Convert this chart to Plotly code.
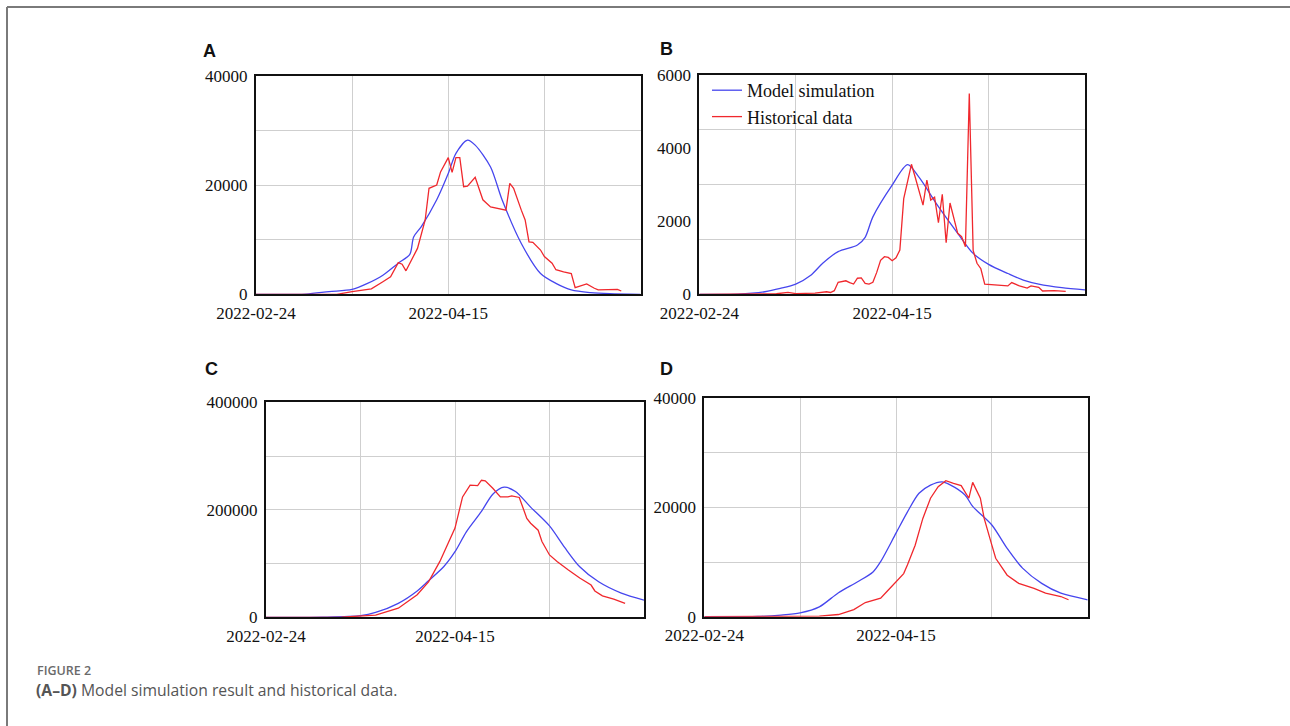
import pandas as pd
import plotly.graph_objects as go

W, H = 1290, 726
START = pd.Timestamp("2022-02-24")

# ---------------- data (day offsets from 2022-02-24) ----------------
a_model_days = [0, 13, 19, 25, 29, 33, 37, 40, 41, 43, 47, 50, 52, 55, 57, 61, 64, 69, 74, 78, 82, 87, 92, 100]
a_model_vals = [0, 50, 500, 900, 2000, 3500, 5700, 7300, 10500, 12400, 17300, 22100, 25800, 28200, 27300,
                23300, 17300, 9300, 3800, 2000, 800, 300, 100, 0]
a_hist_days = [0, 21, 25, 30, 33, 35, 37, 38, 39, 41, 42, 44, 45, 47, 48, 50, 51, 52, 53, 54, 55, 57, 59, 61,
               64, 65, 66, 67, 69, 70, 71, 72, 74, 75, 77, 78, 80, 82, 83, 86, 88, 89, 94, 95]
a_hist_vals = [0, 0, 500, 1000, 2300, 3200, 5800, 5500, 4300, 6900, 8400, 13600, 19400, 20000, 22400, 25000,
               22300, 25000, 25000, 19700, 19800, 21400, 17300, 16000, 15600, 15400, 20300, 19400, 15400,
               13600, 9600, 9500, 8100, 6900, 5700, 4500, 4100, 3800, 1200, 1900, 1100, 800, 900, 600]

b_model_days = [0, 10, 17, 21, 25, 29, 32, 36, 41, 43, 45, 50, 54, 57, 62, 67, 71, 75, 80, 84, 88, 94, 100]
b_model_vals = [0, 5, 70, 160, 280, 530, 850, 1170, 1350, 1560, 2120, 2990, 3550, 3200, 2400, 1670, 1120,
                820, 570, 390, 280, 180, 120]
b_hist_days = [0, 12, 18, 20, 23, 25, 30, 33, 34, 35, 36, 37, 38, 39, 40, 41, 42, 43, 44, 45, 46, 47, 48, 49,
               50, 51, 52, 53, 54, 55, 56, 58, 59, 60, 61, 62, 63, 64, 65, 67, 68, 69, 70, 71, 72, 73, 74,
               78, 80, 81, 83, 85, 86, 88, 89, 92, 95]
b_hist_vals = [0, 10, 20, 15, 50, 20, 30, 70, 50, 100, 330, 350, 370, 320, 280, 440, 450, 300, 280, 330, 600,
               930, 1030, 1010, 920, 1000, 1210, 2620, 3130, 3560, 3200, 2440, 3130, 2580, 2660, 1960, 2740,
               1410, 2500, 1670, 1580, 1300, 5500, 1200, 850, 700, 280, 260, 230, 320, 230, 170, 230, 190,
               90, 100, 80]

c_model_days = [0, 15, 25, 29, 35, 40, 43, 47, 50, 53, 57, 60, 63, 66, 70, 75, 79, 83, 88, 94, 100]
c_model_vals = [0, 300, 3000, 9000, 26000, 49000, 68000, 94000, 122000, 159000, 197000, 229000, 242000,
                234000, 205000, 170000, 130000, 94000, 66000, 45000, 32000]
c_hist_days = [0, 20, 29, 35, 40, 43, 46, 50, 52, 54, 56, 57, 58, 60, 62, 64, 65, 67, 69, 70, 72, 73, 75,
               77, 80, 83, 86, 87, 89, 92, 95]
c_hist_vals = [0, 500, 4000, 17000, 42000, 66000, 104000, 166000, 224000, 246000, 245000, 255000, 254000,
               240000, 224000, 224000, 226000, 223000, 184000, 175000, 162000, 141000, 116000, 104000,
               88000, 73000, 60000, 49000, 40000, 34000, 26000]

d_model_days = [0, 14, 20, 25, 30, 35, 40, 44, 46, 50, 53, 56, 59, 62, 64, 68, 70, 75, 79, 83, 88, 93, 100]
d_model_vals = [0, 50, 300, 700, 1800, 4400, 6400, 8200, 10100, 15300, 19200, 22600, 24100, 24700, 24200,
                22300, 20200, 16800, 12500, 8900, 6100, 4300, 3100]
d_hist_days = [0, 30, 35, 39, 42, 46, 48, 50, 52, 53, 55, 57, 59, 61, 63, 65, 67, 69, 70, 72, 73, 75, 76,
               79, 82, 86, 89, 93, 95]
d_hist_vals = [0, 100, 400, 1300, 2600, 3400, 4900, 6400, 7900, 9500, 13100, 18000, 21700, 23800, 24900,
               24400, 24000, 21700, 24600, 21700, 18000, 13100, 10700, 7600, 6100, 5200, 4300, 3700, 3100]

y_max = [40000, 6000, 400000, 40000]
y_label_vals = [[0, 20000, 40000], [0, 2000, 4000, 6000], [0, 200000, 400000], [0, 20000, 40000]]
panel_letters = ["A", "B", "C", "D"]
x_label_days = [0, 50]
x_label_text = ["2022-02-24", "2022-04-15"]
x_grid_days = [25, 50, 75]
series_names = ["Model simulation", "Historical data"]
caption_head = "FIGURE 2"
caption_bold = "(A\u2013D)"
caption_text = " Model simulation result and historical data."

# ---------------- layout geometry (pixels) ----------------
boxes = [  # x0, x1, ytop, ybottom
    (256, 640.5, 75.7, 294.3),
    (699.3, 1085, 75.2, 294.3),
    (266, 644, 402.3, 617.3),
    (704.3, 1087.7, 398.3, 616.7),
]
label_pos = [(209.5, 51), (666, 49), (211, 369), (666, 369)]

BLUE = "#4646ee"
RED = "#f0282d"
SERIF = "Liberation Serif, Times New Roman, serif"


def dates(days):
    return [START + pd.Timedelta(days=d) for d in days]


panels = [
    (a_model_days, a_model_vals, a_hist_days, a_hist_vals),
    (b_model_days, b_model_vals, b_hist_days, b_hist_vals),
    (c_model_days, c_model_vals, c_hist_days, c_hist_vals),
    (d_model_days, d_model_vals, d_hist_days, d_hist_vals),
]

fig = go.Figure()
layout = dict(
    template="none",
    width=W, height=H, margin=dict(l=0, r=0, t=0, b=0, pad=0, autoexpand=False),
    paper_bgcolor="white", plot_bgcolor="white",
    font=dict(family=SERIF, size=17, color="#111"),
)

for i, (md, mv, hd, hv) in enumerate(panels):
    n = "" if i == 0 else str(i + 1)
    x0, x1, yt, yb = boxes[i]
    show = (i == 1)
    fig.add_trace(go.Scatter(x=dates(md), y=mv, mode="lines", name=series_names[0],
                             line=dict(color=BLUE, width=1.3, shape="spline", smoothing=0.8),
                             showlegend=show, xaxis="x" + n, yaxis="y" + n))
    fig.add_trace(go.Scatter(x=dates(hd), y=hv, mode="lines", name=series_names[1],
                             line=dict(color=RED, width=1.3), showlegend=show,
                             xaxis="x" + n, yaxis="y" + n))
    ym = y_max[i]
    layout["xaxis" + n] = dict(
        domain=[x0 / W, x1 / W], anchor="y" + n, automargin=False,
        range=dates([0, 100]), tickmode="array", tickvals=dates(x_label_days), ticktext=x_label_text,
        showgrid=False, showline=True, mirror=True,
        minor=dict(tickmode="array", tickvals=dates(x_grid_days), showgrid=True, gridcolor="#cfcfcf",
                   gridwidth=1, ticks=""),
        linecolor="#111", linewidth=2, ticks="", zeroline=False, ticklabelstandoff=2,
        tickfont=dict(family=SERIF, size=17, color="#111"),
    )
    layout["yaxis" + n] = dict(
        domain=[1 - yb / H, 1 - yt / H], anchor="x" + n, automargin=False,
        range=[0, ym], tickmode="array", tickvals=y_label_vals[i],
        ticktext=[str(v) for v in y_label_vals[i]],
        showgrid=False, showline=True, mirror=True,
        minor=dict(tickmode="array", tickvals=[ym / 4, ym / 2, 3 * ym / 4], showgrid=True,
                   gridcolor="#cfcfcf", gridwidth=1, ticks=""),
        linecolor="#111", linewidth=2, ticks="", zeroline=False, ticklabelstandoff=3,
        tickfont=dict(family=SERIF, size=17, color="#111"),
    )

annotations = []
for (lx, ly), letter in zip(label_pos, panel_letters):
    annotations.append(dict(x=lx / W, y=1 - ly / H, xref="paper", yref="paper", text=f"<b>{letter}</b>",
                            showarrow=False, xanchor="center", yanchor="middle",
                            font=dict(family="Liberation Sans, Arial, sans-serif", size=18, color="#111")))
annotations.append(dict(x=36 / W, y=1 - 670.8 / H, xref="paper", yref="paper", text=caption_head,
                        showarrow=False, xanchor="left", yanchor="middle", borderpad=0,
                        font=dict(family="Open Sans, sans-serif", size=12.5, color="#6a6a6a", weight=600)))
annotations.append(dict(x=35 / W, y=1 - 690.2 / H, xref="paper", yref="paper",
                        text=f"<b>{caption_bold}</b>{caption_text}",
                        showarrow=False, xanchor="left", yanchor="middle", borderpad=0,
                        font=dict(family="Open Sans, sans-serif", size=15.7, color="#555")))
layout["annotations"] = annotations

layout["shapes"] = [
    dict(type="line", xref="paper", yref="paper", x0=7 / W, x1=1, y0=1 - 7 / H, y1=1 - 7 / H,
         line=dict(color="#7a7a7a", width=2)),
    dict(type="line", xref="paper", yref="paper", x0=7 / W, x1=7 / W, y0=0, y1=1 - 7 / H,
         line=dict(color="#7a7a7a", width=2)),
]

layout["legend"] = dict(x=707 / W, y=1 - 72 / H, xanchor="left", yanchor="top",
                        bgcolor="rgba(0,0,0,0)", borderwidth=0, tracegroupgap=0,
                        font=dict(family=SERIF, size=18, color="#111"))

fig.update_layout(**layout)
fig.write_html("out.html", config={"displayModeBar": False},
               post_script="document.body.style.margin='0';document.body.style.overflow='hidden';")
